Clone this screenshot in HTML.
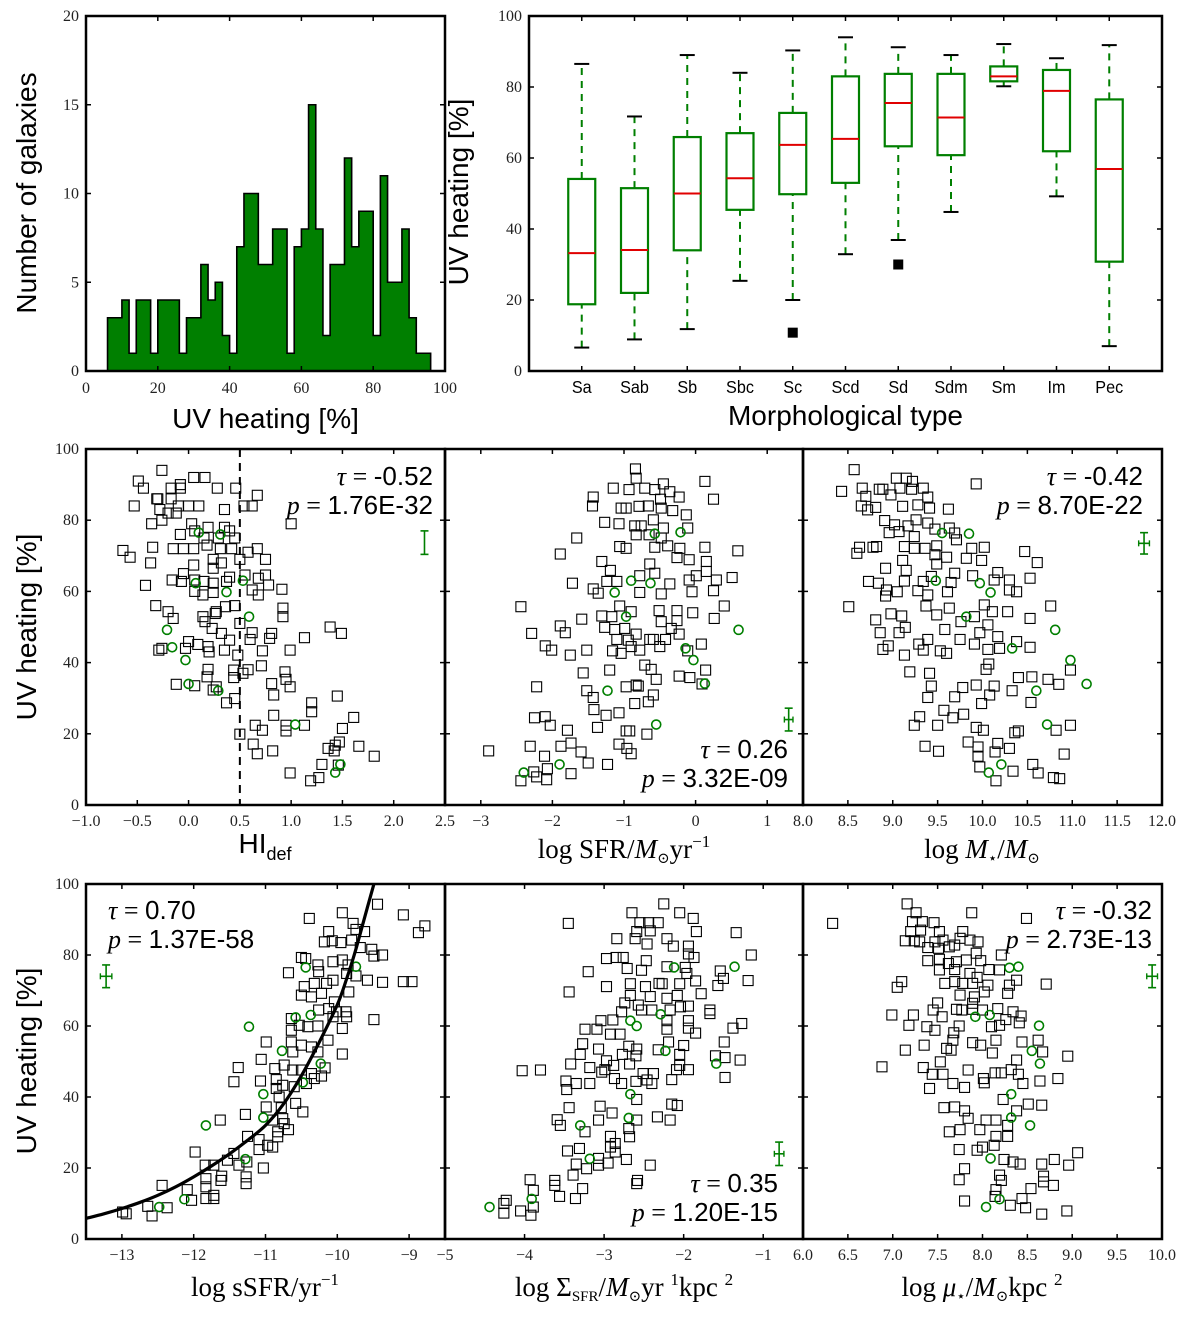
<!DOCTYPE html>
<html><head><meta charset="utf-8"><style>
html,body{margin:0;padding:0;background:#fff}
svg{display:block}
</style></head><body>
<svg id="fig" width="1200" height="1319" viewBox="0 0 1200 1319" xmlns="http://www.w3.org/2000/svg"></svg>
<script>
// ---------- DATA ----------
const histBinStart = 6;
const histBinWidth = 2;
const histCounts = [3,3,4,1,4,4,1,4,4,4,1,3,3,6,4,5,2,1,7,10,10,6,6,8,8,1,7,8,15,8,2,6,6,12,7,9,9,2,11,5,5,8,3,1,1];
const histYTicks = [0,5,10,15,20];
const histXTicks = [0,20,40,60,80,100];

const boxTypes = ['Sa','Sab','Sb','Sbc','Sc','Scd','Sd','Sdm','Sm','Im','Pec'];
const boxWhiskLo = [6.6,8.9,11.8,25.4,20,32.9,36.9,44.8,80.2,49.2,7];
const boxQ1 = [18.8,22,34,45.4,49.8,53,63.3,60.8,81.6,61.9,30.8];
const boxMed = [33.2,34.1,50,54.3,63.7,65.4,75.5,71.4,83,78.9,56.9];
const boxQ3 = [54.1,51.5,65.9,67,72.7,83,83.7,83.7,85.8,84.8,76.5];
const boxWhiskHi = [86.5,71.7,89,84,90.3,94,91.2,89,92.1,88.1,91.8];
const boxOutlierCat = [5,7];
const boxOutlierVal = [10.8,30];
const boxYTicks = [0,20,40,60,80,100];
const scatterYTicks = [0,20,40,60,80,100];

const hiSquares = [[-0.26,94],[-0.49,91],[-0.44,89],[0.05,92],[0.16,92],[0.28,89],[0.46,89],[-0.17,89],[-0.08,90],[-0.08,89],[-0.31,86],[-0.3,86],[-0.53,84],[-0.17,86],[-0.1,84],[0,84],[0.1,84],[0.35,83],[0.54,84],[0.62,84],[0.67,87],[1.0,79],[-0.36,79],[-0.26,80],[-0.28,83],[-0.2,82],[-0.12,82],[0.03,79],[0.19,78],[0.35,78],[0.4,77],[0.45,75],[0.06,77],[0.15,75],[0.29,75],[-0.08,76],[-0.15,72],[-0.05,72],[0.05,72],[0.18,73],[0.31,72],[0.42,72],[0.58,71],[0.67,72],[0.75,69],[0.5,69],[-0.64,71.5],[-0.57,69.6],[-0.35,72.4],[-0.37,68],[-0.42,61.7],[0.24,69],[0.32,68],[0.05,67.4],[0.24,66.5],[-0.05,65],[0.4,64],[0.55,64.6],[0.68,63.7],[0.75,64.6],[-0.16,63.2],[-0.07,62.8],[0.06,63.2],[0.15,62.8],[0.24,62.3],[0.37,62.8],[0.78,61.8],[0.91,60.6],[0.62,60.4],[0.68,59],[0.06,60],[0.14,59],[0.24,59.7],[-0.32,56],[-0.2,54.3],[-0.15,52.4],[0.36,55.7],[0.45,56],[0.26,53.8],[0.27,54.3],[0.14,52.9],[0.16,51.5],[0.5,51],[0.92,55.3],[0.92,52.9],[1.38,50],[1.49,48.2],[1.13,47],[0.23,49.6],[0.32,48.2],[0.4,46.3],[0.62,48.4],[0.6,46.5],[0.81,48.2],[0.79,46.8],[0.99,43.5],[0.72,43.3],[0,45.9],[0.09,45.1],[-0.03,44],[0.19,44.5],[0.2,43],[-0.29,43.5],[-0.26,44],[0.35,43.5],[0.48,42.1],[0.71,39.1],[0.19,38.1],[0.18,36],[0.44,37.9],[0.44,35.8],[0.53,37],[0.58,38],[0.94,37.4],[0.95,35.3],[0.99,33.2],[0.81,34.1],[-0.12,33.9],[0.06,33.5],[0.24,32.3],[0.27,33.2],[0.37,28.7],[0.45,29.9],[0.83,30.9],[1.45,30.6],[1.2,28.7],[1.2,26.2],[0.83,25.2],[1.61,24.6],[0.5,19.9],[0.65,22.4],[0.72,21],[0.95,22.4],[0.95,20.8],[1.13,22.4],[1.5,21.5],[0.63,17.1],[0.67,14.4],[0.82,15.2],[1.36,15.9],[1.43,16.8],[1.47,17.7],[1.66,16.5],[1.42,15.2],[1.81,13.7],[1.3,11.4],[1.46,11.2],[0.99,9],[1.27,7.7],[1.19,6.8]];
const hiCircles = [[0.1,76.5],[0.31,76],[0.07,62.3],[0.53,63],[0.37,59.8],[0.59,52.9],[-0.21,49.2],[-0.16,44.3],[-0.03,40.7],[0,34],[0.29,32.1],[1.04,22.6],[1.43,9.1],[1.48,11.4]];

const sfrSquares = [[-0.84,94.4],[-0.83,91.8],[-1.15,89],[-0.93,88.6],[-0.71,89],[-0.57,88.6],[-0.45,90.2],[-0.36,88],[0.13,90.9],[0.25,85.9],[-1.43,86.5],[-1.44,84],[-1.04,83.4],[-0.97,83.4],[-0.79,83.9],[-0.66,84],[-0.49,85.9],[-0.48,83.4],[-0.32,82.7],[-0.23,86.5],[-0.13,81.5],[-1.27,79.4],[-1.07,79],[-0.85,78.4],[-0.76,78.4],[-0.59,80.1],[-0.45,77.8],[-0.11,77.8],[-0.83,75.9],[-0.65,75.9],[-0.48,75],[-1.66,75],[-1.06,72.6],[-0.97,72.1],[-0.57,72.4],[-0.39,72.8],[-0.22,72.1],[0.13,72.4],[0.59,71.4],[-1.89,70.5],[-0.26,69.5],[-0.09,68.9],[0.15,68.4],[-1.31,68.4],[-0.64,67.7],[-1.19,65.9],[0.01,64.4],[0.15,65.6],[0.51,63.9],[-1.72,62.3],[-0.78,64.4],[-0.57,65.1],[-0.36,62.1],[-1.43,60.7],[-1.24,62.8],[-1.1,62.8],[-0.09,63.2],[0.29,63.2],[0.25,60.2],[-0.05,59.9],[-0.78,59.7],[-0.48,59.3],[-1.36,59.5],[-2.44,55.7],[-1.06,55.9],[-0.9,54.3],[-0.51,54.6],[-0.26,54.6],[-0.04,54],[0.4,55.9],[0.26,52.4],[-1.59,52.2],[-1.31,53.1],[-1.17,52.9],[-0.48,51.5],[-0.26,51.8],[-1.89,50.3],[-1.82,48.4],[-2.29,48.2],[-1.27,49.9],[-1.13,49.3],[-0.99,49.6],[-0.34,49.6],[-0.23,48],[-0.83,48],[-1.1,46.5],[-0.94,46.3],[-0.64,46.5],[-0.42,46.5],[-0.59,46.5],[0.08,45.2],[-2.1,44.7],[-2.01,43.5],[-1.52,43.5],[-1.75,42.1],[-1.16,43.3],[-1.04,42.6],[-0.9,44.5],[-0.78,43.5],[-0.5,44.5],[-0.11,43.3],[-1.57,37.1],[-1.2,37.9],[-0.71,39.3],[-0.62,38.1],[-0.55,35.3],[-0.23,36.2],[-0.08,35.8],[0.14,37.9],[0.09,34],[-2.22,33.2],[-0.97,33.2],[-0.83,33.7],[-0.8,33.4],[-1.52,32.1],[-1.43,30.2],[-0.59,30.9],[-0.85,28.5],[-0.66,29],[-1.42,26.8],[-1.25,25.2],[-1.07,25.9],[-2.25,24.5],[-2.1,24.8],[-2.03,22.4],[-1.79,21],[-1.37,21.8],[-0.97,20.8],[-0.92,20.8],[-0.68,19.9],[-2.89,15.2],[-2.31,16.5],[-1.88,16.5],[-1.74,17.4],[-1.6,14.9],[-1.07,17.1],[-0.96,15.9],[-0.9,14.4],[-2.11,13.7],[-1.5,11.8],[-1.23,11.4],[-2.07,10.2],[-2.26,9.3],[-1.74,8.8],[-2.44,6.8],[-2.22,7.9],[-2.08,7.1]];
const sfrCircles = [[-0.57,76.2],[-0.21,76.6],[-0.9,63],[-0.63,62.3],[-1.13,59.7],[-0.97,52.9],[0.6,49.2],[-0.14,44],[-0.03,40.7],[0.13,34.1],[-1.23,32.1],[-0.55,22.6],[-1.9,11.4],[-2.4,9.1]];

const mstarSquares = [[8.57,94.2],[8.43,88.1],[8.66,89],[8.7,86.7],[8.85,88.7],[8.89,88.7],[8.98,87.1],[9.04,91.8],[9.15,91.8],[9.22,90.9],[9.08,89],[9.21,88.7],[9.34,89],[9.39,86.5],[9.93,90.2],[8.65,84],[8.72,82.9],[8.81,83.6],[9.11,83.9],[9.28,84.3],[9.41,83.4],[9.62,83.1],[8.91,79.9],[9.02,78.7],[9.17,78.4],[9.26,80.1],[9.39,79.2],[8.96,76.5],[9.07,76.8],[9.24,75.4],[9.47,77.5],[9.63,77.8],[9.71,74.5],[9.69,76.4],[9.13,72.6],[9.24,72.1],[9.36,72.1],[9.49,72.8],[9.88,72.1],[10.02,72.4],[8.63,72.4],[8.6,70.7],[8.78,72.4],[8.82,72.6],[9.47,70.3],[9.6,69.6],[9.82,69.3],[9.99,68.7],[10.47,71.2],[10.61,68.1],[9.11,68.7],[8.92,66.5],[9.15,65.9],[9.49,67.7],[9.69,65.1],[10.17,65.3],[10.53,63.7],[8.73,62.8],[8.84,62.3],[8.93,60.4],[9.13,62.9],[9.34,62.8],[9.43,64.2],[9.65,62.5],[9.89,64.4],[10.13,63.2],[10.3,63.2],[10.3,60.4],[10.38,59.9],[8.92,58.7],[9.05,59.9],[9.28,60.2],[9.39,59],[9.61,59.9],[8.51,55.7],[9.37,55.9],[9.63,55.3],[9.49,53.4],[10.02,56.2],[10.11,54.3],[10.28,54.3],[10.53,52.4],[10.76,55.9],[8.81,52],[8.98,53.7],[9.1,53.1],[9.76,51.5],[9.91,52.9],[10.06,50.6],[8.86,48.4],[9.07,48.4],[9.14,49.9],[9.58,49.3],[9.75,46.5],[9.97,48.4],[10.17,47.3],[8.89,43.7],[8.95,44.7],[9.13,42.1],[9.29,45.2],[9.39,46.5],[9.34,43.5],[9.53,43.3],[9.6,42.6],[9.91,45.2],[10.06,43.7],[10.19,44],[10.38,45.9],[10.53,44.3],[9.19,37.4],[9.41,37],[9.43,33.4],[9.39,30.2],[9.69,30.4],[9.78,33],[9.93,33.7],[10.04,38.1],[10.07,39.6],[9.99,28.5],[10.08,30.9],[10.13,33.4],[10.33,32.1],[10.4,35.8],[10.55,36],[10.73,35.3],[10.85,33.9],[10.98,37.9],[10.54,28.8],[9.57,26.6],[9.67,24.5],[9.79,25.5],[9.24,22.4],[9.3,24.8],[9.5,22.4],[9.93,21.8],[10.01,21],[10.36,20.3],[10.4,20.8],[10.82,21],[10.98,22.4],[9.36,16.5],[9.51,15.1],[9.84,17.7],[9.95,16.3],[9.95,13.7],[10.14,14.9],[10.17,17.3],[10.3,15.9],[10.91,14.3],[9.97,10.7],[10.34,9.5],[10.56,11.4],[10.62,9],[10.15,6.8],[10.79,7.7],[10.86,7.4]];
const mstarCircles = [[9.55,76.4],[9.85,76.2],[9.48,63],[9.97,62.3],[10.09,59.7],[9.82,52.9],[10.81,49.2],[10.33,44],[10.98,40.7],[11.16,34],[10.6,32.1],[10.72,22.6],[10.21,11.4],[10.07,9.1]];

const ssfrSquares = [[-9.44,94.3],[-10.39,90.3],[-9.93,91.9],[-9.78,88.9],[-9.08,91.3],[-8.78,88.2],[-8.87,86.3],[-10.12,86.6],[-9.74,87.2],[-9.62,86.6],[-10.18,83.7],[-10.07,84],[-9.95,83.5],[-9.8,84.2],[-9.68,82.1],[-9.52,81.6],[-9.49,79.7],[-9.37,80],[-10.5,79.3],[-10.44,79],[-10.27,77.2],[-10.06,78.1],[-9.93,78.6],[-9.85,77.2],[-10.68,75],[-9.87,74.8],[-9.74,74.1],[-9.58,72.9],[-9.37,72.3],[-9.08,72.5],[-8.96,72.5],[-10.26,75.3],[-10.46,71.1],[-10.32,72],[-10.15,72],[-10.06,72.9],[-9.84,69.6],[-10.5,68.7],[-10.36,68.2],[-10.22,69.2],[-10.04,66.8],[-10.26,64.5],[-10.12,64.9],[-10.01,64],[-9.88,64],[-9.87,62.6],[-10.06,62.6],[-10.64,62.1],[-10.53,60.2],[-10.41,59.8],[-10.27,60],[-9.93,59.3],[-9.49,61.8],[-10.64,58.8],[-10.13,56],[-10.99,55.5],[-10.64,55.5],[-10.5,54.6],[-10.36,54.1],[-10.27,52.7],[-9.93,52.1],[-10.62,52.7],[-11.06,50.6],[-11.38,48.3],[-10.87,48],[-10.74,49],[-10.62,47.6],[-10.5,47.6],[-10.36,46.6],[-10.22,45.9],[-10.17,48.2],[-11.44,44.3],[-11.07,44.5],[-10.85,44.9],[-10.76,43.3],[-10.6,42.9],[-10.43,43.8],[-10.32,45.2],[-10.85,42.4],[-10.81,40],[-10.99,37.2],[-10.58,38.2],[-10.48,35.8],[-11.28,35.1],[-10.78,37],[-10.76,33.9],[-10.74,32.5],[-10.68,30.8],[-10.9,33.5],[-11.63,33.5],[-10.83,30.2],[-10.83,28.8],[-11.25,28.9],[-11.09,28],[-10.97,26.4],[-10.9,25.9],[-11.09,25.2],[-11.44,24.1],[-11.53,22.2],[-11.37,20.8],[-11.26,21.7],[-11.03,20],[-11.98,24.5],[-11.84,20.8],[-11.72,20.8],[-11.61,17.7],[-11.62,16.5],[-11.83,17],[-11.83,14.7],[-11.83,11.4],[-11.72,12.3],[-11.72,11.4],[-11.27,17.5],[-11.27,15.6],[-12.44,15.1],[-12.09,13.9],[-12.03,10.9],[-12.64,9.2],[-12.58,6.5],[-12.37,8.8],[-12.99,7.6],[-12.94,7.1]];
const ssfrCircles = [[-10.44,76.5],[-9.74,76.7],[-11.23,59.8],[-10.58,62.4],[-10.37,63.1],[-10.77,53],[-10.23,49.4],[-10.48,44.1],[-11.03,40.8],[-11.03,34.2],[-11.83,32],[-11.28,22.5],[-12.13,11.2],[-12.48,9]];
const fitX = [-13.5,-13.25,-13,-12.75,-12.5,-12.25,-12,-11.75,-11.5,-11.25,-11,-10.75,-10.5,-10.25,-10,-9.875,-9.75,-9.6,-9.49];
const fitY = [5.8,7.1,8.6,10.3,12.3,14.7,17.5,20.6,24,27.8,32,38,46,55.5,66,73,81,92,100];

const sigSquares = [[-2.25,94.4],[-2.05,91.9],[-1.88,90.3],[-2.65,91.9],[-3.45,88.9],[-2.55,89.1],[-2.44,89.1],[-2.32,89.1],[-2.59,86.6],[-2.42,86.8],[-1.84,86.6],[-1.34,86.3],[-2.84,84.6],[-2.61,84.6],[-2.46,83.1],[-2.21,84.6],[-2.13,82.5],[-1.94,82.5],[-2.97,79],[-2.85,79.3],[-2.76,79.3],[-1.94,80.3],[-1.87,79.3],[-1.15,80],[-3.2,75.3],[-2.71,76.2],[-2.53,75.7],[-2.47,78.4],[-2.21,76.7],[-1.98,76.5],[-1.96,74.8],[-1.54,75.5],[-1.5,73.4],[-1.19,72.8],[-2.97,71.1],[-2.67,71.9],[-2.48,71.1],[-2.31,72],[-2.27,71.9],[-2.05,71.9],[-1.85,72.7],[-1.57,71.4],[-3.44,69.6],[-1.78,69.1],[-2.67,68.6],[-2.42,68.3],[-2.21,67.8],[-2.08,68.6],[-2.74,66.5],[-2.57,65.9],[-2.78,64],[-2.53,64.5],[-2.4,64.5],[-2.17,64.5],[-2.04,65.4],[-1.94,65.6],[-1.67,64.5],[-1.67,63.5],[-3.04,61.5],[-2.89,61.7],[-2.21,61.5],[-1.94,61.5],[-1.27,60.7],[-1.38,59.4],[-3.24,59.1],[-3.09,59.1],[-2.92,57.7],[-2.8,57.7],[-2.21,59.1],[-1.94,59.4],[-1.85,58],[-3.27,55],[-3.07,53.5],[-2.69,54.3],[-2.59,53.5],[-2.19,55.5],[-2.0,54.5],[-1.49,55.5],[-3.3,52],[-2.77,52],[-2.6,51.6],[-2.32,53.3],[-2.05,52],[-1.6,51.6],[-1.48,51.1],[-1.29,50.4],[-4.03,47.4],[-3.8,47.6],[-3.42,49.3],[-3.18,48.3],[-2.97,50.2],[-2.88,48.9],[-2.68,49.3],[-2.05,48.9],[-1.94,47.7],[-2.09,47.7],[-3.03,47],[-2.99,47.7],[-3.48,44.5],[-3.35,43.8],[-3.47,42.1],[-3.18,43.8],[-2.87,45.2],[-2.78,43.8],[-2.6,44.4],[-2.51,46.6],[-2.38,46.6],[-2.46,44.8],[-2.4,43.8],[-2.15,44.9],[-1.48,45.5],[-2.59,39.3],[-3.44,37],[-3.05,37.4],[-2.9,35.5],[-2.15,38],[-2.08,37.6],[-2.17,33.5],[-2.33,34.4],[-3.07,33.5],[-3.59,33.6],[-3.55,32],[-2.59,33.5],[-2.69,31.1],[-2.68,28.8],[-3.24,30.2],[-2.92,28.9],[-2.92,25.9],[-2.86,26.9],[-3.46,24.8],[-3.31,25.5],[-2.86,24.5],[-3.07,22.7],[-2.72,22.4],[-2.95,21.4],[-3.35,21.1],[-3.07,20.8],[-3.22,19.8],[-2.42,20.8],[-3.93,16.7],[-3.62,16.5],[-3.62,15.1],[-3.39,18],[-2.58,16.5],[-2.59,15.6],[-3.27,14.2],[-3.89,13.7],[-3.56,12],[-3.36,11.4],[-4.23,10.9],[-4.26,10],[-4.05,7.9],[-3.92,6.7],[-3.89,9],[-4.26,7.3]];
const sigCircles = [[-2.12,76.5],[-1.36,76.7],[-2.67,61.5],[-2.59,60],[-2.29,63.3],[-2.23,53],[-1.59,49.4],[-2.67,40.8],[-2.69,34.1],[-3.3,32],[-3.18,22.6],[-3.91,11.3],[-4.44,9]];

const muSquares = [[6.33,88.9],[7.16,94.4],[7.26,91.9],[7.88,91.9],[8.49,90.3],[7.22,89.4],[7.33,89.4],[7.46,89.1],[7.2,86.6],[7.31,87],[7.52,86.6],[7.78,86.6],[7.14,84],[7.24,84],[7.3,83.7],[7.47,83.7],[7.56,84.2],[7.69,82.8],[7.86,84.2],[7.95,83.7],[7.39,82.1],[7.51,81.9],[7.63,82.3],[7.75,84.7],[8.21,80],[7.93,80.5],[7.39,78.4],[7.52,78.8],[7.62,77.6],[7.71,78.1],[7.82,78.6],[7.98,78.4],[7.52,75.8],[7.69,75.9],[7.86,74.8],[7.94,73.7],[8.07,75.9],[8.19,75.8],[7.1,72.5],[7.05,70.9],[7.58,72],[7.69,72.5],[7.78,72],[7.89,72],[8.06,71.5],[8.3,71.5],[8.38,72.9],[8.28,69.2],[8.71,71.8],[7.75,68.7],[7.91,68.2],[8.02,69.6],[7.89,66.4],[7.5,66.5],[6.99,63.1],[7.23,63.1],[7.45,64.5],[7.55,62.6],[7.71,64.7],[7.77,64.5],[7.89,64.7],[8.0,64.5],[8.17,64.9],[8.26,61.8],[8.34,64],[8.43,62.8],[8.41,60.9],[7.18,60.2],[7.38,59.8],[7.47,58.8],[7.74,60],[7.68,58.1],[8.19,60.2],[8.1,59.8],[7.14,53.2],[7.35,54.6],[7.6,53.7],[7.65,53.2],[7.67,56],[7.89,55.3],[7.98,54.6],[8.15,56],[8.11,52.4],[8.44,55.5],[8.62,56],[8.67,52.7],[8.38,50.4],[8.95,51.5],[6.88,48.5],[7.34,48.3],[7.53,49.9],[7.44,46.4],[7.56,46.4],[7.84,47.6],[8.01,45.2],[8.14,46.8],[8.21,46.8],[8.32,47.7],[8.4,46.4],[8.64,44.5],[8.84,45.2],[7.41,42.4],[7.67,43.8],[7.8,42.7],[8.02,44],[8.45,43.8],[8.23,39.3],[7.57,37],[7.69,37.2],[7.8,36.1],[8.04,33.5],[8.15,33.5],[8.38,36.1],[8.51,38],[8.66,37.7],[7.63,30.2],[7.75,30.8],[7.97,30.8],[7.84,34],[8.28,32],[8.15,28.9],[8.13,26.4],[8.28,28.9],[7.74,25.2],[7.94,25],[8.0,25.9],[8.24,22.4],[8.34,21.7],[8.42,21.1],[8.66,21.1],[8.8,22.4],[8.96,20.8],[9.06,24.3],[7.8,19.8],[7.74,16.7],[8.19,18],[8.21,16.5],[8.15,13.9],[8.14,12],[8.68,17.7],[8.68,16.1],[8.79,15.1],[8.54,14.2],[8.44,11.4],[7.8,10.7],[8.31,9.5],[8.48,8.8],[8.66,7],[8.94,7.9]];
const muCircles = [[8.3,76.4],[8.4,76.7],[7.92,62.6],[8.08,63.1],[8.63,60.1],[8.55,53],[8.64,49.4],[8.32,40.8],[8.32,34.2],[8.53,32],[8.09,22.7],[8.19,11.2],[8.04,9]];

const statTau = ['-0.52','0.26','-0.42','0.70','0.35','-0.32'];
const statP = ['1.76E-32','3.32E-09','8.70E-22','1.37E-58','1.20E-15','2.73E-13'];
const errX = [2.3,1.3,11.8,-13.22,-0.8,9.89];
const errY = [73.7,24,73.5,74,24,74];
const errDY = [3.3,3.2,3.0,3.2,3.3,3.2];
const errDX = [0,0.06,0.06,0.08,0.06,0.06];

// ---------- HELPERS ----------
const NS='http://www.w3.org/2000/svg';
const svg=document.getElementById('fig');
function mk(tag, attrs, parent){const e=document.createElementNS(NS,tag);for(const k in attrs)e.setAttribute(k,attrs[k]);(parent||svg).appendChild(e);return e;}
function lin(d0,d1,r0,r1){return v=>r0+(v-d0)*(r1-r0)/(d1-d0);}
const SERIF='"Liberation Serif", "DejaVu Serif", serif';
const SANS='"Liberation Sans", "DejaVu Sans", sans-serif';
const GREEN='#007f00';

function frame(g,x0,x1,y0,y1){
  const r=mk('rect',{x:x0,y:y0,width:x1-x0,height:y1-y0,fill:'none',stroke:'#000','stroke-width':2.5},g);
  
  
}
function yTicks(g,vals,sy,x0,x1,labels,fs){
  vals.forEach(v=>{
    const y=sy(v);
    const t1=mk('line',{x1:x0,x2:x0+5,y1:y,y2:y,stroke:'#000','stroke-width':1.5},g);
    
    
    const t2=mk('line',{x1:x1,x2:x1-5,y1:y,y2:y,stroke:'#000','stroke-width':1.5},g);
    
    
    if(labels){
      const t=mk('text',{x:x0-7,y:y+5,'text-anchor':'end','font-family':SERIF,'font-size':fs||16,fill:'#222'},g);
      t.textContent=String(v);
      
      
    }
  });
}
function xTicks(g,vals,sx,y0,y1,fmt,ly){
  vals.forEach(v=>{
    const x=sx(v);
    const t1=mk('line',{x1:x,x2:x,y1:y1,y2:y1-5,stroke:'#000','stroke-width':1.5},g);
    
    
    const t2=mk('line',{x1:x,x2:x,y1:y0,y2:y0+5,stroke:'#000','stroke-width':1.5},g);
    
    
    const t=mk('text',{x:x,y:ly,'text-anchor':'middle','font-family':SERIF,'font-size':16,fill:'#222'},g);
    t.textContent=fmt(v);
    
    
  });
}
function fmtN(d){return v=>(v<0?'\u2212':'')+Math.abs(v).toFixed(d);}
function yLabel(x,y,txt){
  const t=mk('text',{x:0,y:0,transform:`translate(${x},${y}) rotate(-90)`,'text-anchor':'middle','font-family':SANS,'font-size':28,fill:'#000'});
  t.textContent=txt;
  
  
}

// ---------- HISTOGRAM ----------
(function(){
  const g=mk('g',{});
  
  
  const X0=86,X1=445,Y0=16,Y1=371;
  const sx=lin(0,100,X0,X1), sy=lin(0,20,Y1,Y0);
  let d=`M${sx(histBinStart)},${sy(0)}`;
  histCounts.forEach((c,i)=>{
    const a=histBinStart+i*histBinWidth;
    d+=` L${sx(a)},${sy(c)} L${sx(a+histBinWidth)},${sy(c)}`;
  });
  d+=` L${sx(histBinStart+histCounts.length*histBinWidth)},${sy(0)} Z`;
  const p=mk('path',{d:d,fill:GREEN,stroke:'#000','stroke-width':1.6,'stroke-linejoin':'miter'},g);
  
  
  frame(g,X0,X1,Y0,Y1);
  yTicks(g,histYTicks,sy,X0,X1,true);
  xTicks(g,histXTicks,sx,Y0,Y1,v=>String(v),393);
  yLabel(36,193,'Number of galaxies');
  const t=mk('text',{x:(X0+X1)/2,y:428,'text-anchor':'middle','font-family':SANS,'font-size':28},g);
  t.textContent='UV heating [%]';
  
  
})();

// ---------- BOX PLOT ----------
(function(){
  const g=mk('g',{});
  
  
  const X0=529,X1=1162,Y0=16,Y1=371;
  const sx=lin(0,12,X0,X1), sy=lin(0,100,Y1,Y0);
  const hw=13.5, cw=7.5;
  boxTypes.forEach((name,i)=>{
    const x=sx(i+1);
    const w1=mk('line',{x1:x,x2:x,y1:sy(boxWhiskLo[i]),y2:sy(boxQ1[i]),stroke:GREEN,'stroke-width':2,'stroke-dasharray':'7,6'},g);
    
    
    const w2=mk('line',{x1:x,x2:x,y1:sy(boxQ3[i]),y2:sy(boxWhiskHi[i]),stroke:GREEN,'stroke-width':2,'stroke-dasharray':'7,6'},g);
    
    
    const c1=mk('line',{x1:x-cw,x2:x+cw,y1:sy(boxWhiskLo[i]),y2:sy(boxWhiskLo[i]),stroke:'#000','stroke-width':2},g);
    
    
    const c2=mk('line',{x1:x-cw,x2:x+cw,y1:sy(boxWhiskHi[i]),y2:sy(boxWhiskHi[i]),stroke:'#000','stroke-width':2},g);
    
    
    const r=mk('rect',{x:x-hw,y:sy(boxQ3[i]),width:2*hw,height:sy(boxQ1[i])-sy(boxQ3[i]),fill:'#fff',stroke:GREEN,'stroke-width':2.2},g);
    
    
    const m=mk('line',{x1:x-hw,x2:x+hw,y1:sy(boxMed[i]),y2:sy(boxMed[i]),stroke:'#e00000','stroke-width':2},g);
    
    
    const tk=mk('line',{x1:x,x2:x,y1:Y1,y2:Y1-5,stroke:'#000','stroke-width':1.5},g);
    
    
    const tk2=mk('line',{x1:x,x2:x,y1:Y0,y2:Y0+5,stroke:'#000','stroke-width':1.5},g);
    
    
    const t=mk('text',{x:x,y:393,'text-anchor':'middle','font-family':SANS,'font-size':18,transform:`translate(${x},0) scale(0.9,1) translate(${-x},0)`},g);
    t.textContent=name;
    
    
  });
  boxOutlierCat.forEach((c,i)=>{
    const x=sx(c), y=sy(boxOutlierVal[i]);
    const o=mk('rect',{x:x-5,y:y-5,width:10,height:10,fill:'#000'},g);
    
    
  });
  frame(g,X0,X1,Y0,Y1);
  yTicks(g,boxYTicks,sy,X0,X1,true);
  yLabel(468,192,'UV heating [%]');
  const t=mk('text',{x:(X0+X1)/2,y:425,'text-anchor':'middle','font-family':SANS,'font-size':28},g);
  t.textContent='Morphological type';
  
  
})();

// ---------- SCATTER PANELS ----------
const panels=[
 {id:'hi-def',X0:86,X1:445,Y0:449,Y1:805,dx:[-1,2.5],ticks:[-1,-0.5,0,0.5,1,1.5,2,2.5],fmt:fmtN(1),sq:hiSquares,ci:hiCircles,k:0,ylab:true,statAnchor:'end',statX:433,statY:[485,514]},
 {id:'sfr',X0:445,X1:803,Y0:449,Y1:805,dx:[-3.5,1.5],ticks:[-3,-2,-1,0,1],fmt:fmtN(0),sq:sfrSquares,ci:sfrCircles,k:1,ylab:false,statAnchor:'end',statX:788,statY:[758,787]},
 {id:'mstar',X0:803,X1:1162,Y0:449,Y1:805,dx:[8,12],ticks:[8,8.5,9,9.5,10,10.5,11,11.5,12],fmt:fmtN(1),sq:mstarSquares,ci:mstarCircles,k:2,ylab:false,statAnchor:'end',statX:1143,statY:[485,514]},
 {id:'ssfr',X0:86,X1:445,Y0:884,Y1:1239,dx:[-13.5,-8.5],ticks:[-13,-12,-11,-10,-9],fmt:fmtN(0),sq:ssfrSquares,ci:ssfrCircles,k:3,ylab:true,statAnchor:'start',statX:108,statY:[919,948]},
 {id:'sigma-sfr',X0:445,X1:803,Y0:884,Y1:1239,dx:[-5,-0.5],ticks:[-5,-4,-3,-2,-1],fmt:fmtN(0),sq:sigSquares,ci:sigCircles,k:4,ylab:false,statAnchor:'end',statX:778,statY:[1192,1221]},
 {id:'mu-star',X0:803,X1:1162,Y0:884,Y1:1239,dx:[6,10],ticks:[6,6.5,7,7.5,8,8.5,9,9.5,10],fmt:fmtN(1),sq:muSquares,ci:muCircles,k:5,ylab:false,statAnchor:'end',statX:1152,statY:[919,948]}
];
panels.forEach(P=>{
  const g=mk('g',{});
  
  
  const sx=lin(P.dx[0],P.dx[1],P.X0,P.X1), sy=lin(0,100,P.Y1,P.Y0);
  if(P.id==='hi-def'){
    const dl=mk('line',{x1:sx(0.5),x2:sx(0.5),y1:P.Y0,y2:P.Y1,stroke:'#000','stroke-width':2,'stroke-dasharray':'8,6'},g);
    
    
  }
  P.sq.forEach(pt=>{
    const r=mk('rect',{x:sx(pt[0])-5,y:sy(pt[1])-5,width:10,height:10,fill:'none',stroke:'#000','stroke-width':1.1},g);
    
    
  });
  P.ci.forEach(pt=>{
    const c=mk('circle',{cx:sx(pt[0]),cy:sy(pt[1]),r:4.5,fill:'none',stroke:GREEN,'stroke-width':1.6},g);
    
    
  });
  if(P.id==='ssfr'){
    const pts=fitX.map((x,i)=>[sx(x),sy(fitY[i])]);
    let d=`M${pts[0][0]},${pts[0][1]}`;
    for(let i=0;i<pts.length-1;i++){
      const p0=pts[Math.max(0,i-1)],p1=pts[i],p2=pts[i+1],p3=pts[Math.min(pts.length-1,i+2)];
      const c1x=p1[0]+(p2[0]-p0[0])/6,c1y=p1[1]+(p2[1]-p0[1])/6;
      const c2x=p2[0]-(p3[0]-p1[0])/6,c2y=p2[1]-(p3[1]-p1[1])/6;
      d+=` C${c1x},${c1y} ${c2x},${c2y} ${p2[0]},${p2[1]}`;
    }
    const fc=mk('path',{d:d,fill:'none',stroke:'#000','stroke-width':3.2},g);
    
    
  }
  const k=P.k, ex=sx(errX[k]), ey0=sy(errY[k]-errDY[k]), ey1=sy(errY[k]+errDY[k]);
  const eb=mk('g',{},g);
  
  
  mk('line',{x1:ex,x2:ex,y1:ey0,y2:ey1,stroke:GREEN,'stroke-width':1.6},eb);
  mk('line',{x1:ex-4,x2:ex+4,y1:ey0,y2:ey0,stroke:GREEN,'stroke-width':1.6},eb);
  mk('line',{x1:ex-4,x2:ex+4,y1:ey1,y2:ey1,stroke:GREEN,'stroke-width':1.6},eb);
  if(errDX[k]>0){
    const hx0=sx(errX[k]-errDX[k]),hx1=sx(errX[k]+errDX[k]),cy=sy(errY[k]);
    mk('line',{x1:hx0,x2:hx1,y1:cy,y2:cy,stroke:GREEN,'stroke-width':1.6},eb);
    mk('line',{x1:hx0,x2:hx0,y1:cy-3,y2:cy+3,stroke:GREEN,'stroke-width':1.4},eb);
    mk('line',{x1:hx1,x2:hx1,y1:cy-3,y2:cy+3,stroke:GREEN,'stroke-width':1.4},eb);
  }
  frame(g,P.X0,P.X1,P.Y0,P.Y1);
  yTicks(g,scatterYTicks,sy,P.X0,P.X1,P.ylab);
  xTicks(g,P.ticks,sx,P.Y0,P.Y1,P.fmt,P.Y1+21);
  const t1=mk('text',{x:P.statX,y:P.statY[0],'text-anchor':P.statAnchor,'font-family':SANS,'font-size':26},g);
  t1.innerHTML=`<tspan font-family='${SERIF}' font-style='italic'>τ</tspan><tspan font-family='${SERIF}'> = </tspan>${statTau[k]}`;
  
  
  const t2=mk('text',{x:P.statX,y:P.statY[1],'text-anchor':P.statAnchor,'font-family':SANS,'font-size':26},g);
  t2.innerHTML=`<tspan font-family='${SERIF}' font-style='italic'>p</tspan><tspan font-family='${SERIF}'> = </tspan>${statP[k]}`;
  
  
});
yLabel(36,627,'UV heating [%]');
yLabel(36,1061,'UV heating [%]');

function xTitle(cx,y,html,sans){
  const t=mk('text',{x:cx,y:y,'text-anchor':'middle','font-family':sans?SANS:SERIF,'font-size':sans?28:27});
  t.innerHTML=html;
  
  
}
xTitle(265,853,`HI<tspan font-size="18" dy="7">def</tspan>`,true);
xTitle(624,858,`log SFR/<tspan font-style="italic">M</tspan><tspan font-size="15" dy="5">⊙</tspan><tspan dy="-5">yr</tspan><tspan font-size="17" dy="-11">−1</tspan>`);
xTitle(982,858,`log <tspan font-style="italic">M</tspan><tspan font-size="15" dy="5">⋆</tspan><tspan dy="-5">/</tspan><tspan font-style="italic">M</tspan><tspan font-size="15" dy="5">⊙</tspan>`);
xTitle(265,1296,`log sSFR/yr<tspan font-size="17" dy="-11">−1</tspan>`);
xTitle(624,1296,`log Σ<tspan font-size="15" dy="5">SFR</tspan><tspan dy="-5">/</tspan><tspan font-style="italic">M</tspan><tspan font-size="15" dy="5">⊙</tspan><tspan dy="-5">yr  </tspan><tspan font-size="17" dy="-11">1</tspan><tspan dy="11">kpc  </tspan><tspan font-size="17" dy="-11">2</tspan>`);
xTitle(982,1296,`log <tspan font-style="italic">μ</tspan><tspan font-size="15" dy="5">⋆</tspan><tspan dy="-5">/</tspan><tspan font-style="italic">M</tspan><tspan font-size="15" dy="5">⊙</tspan><tspan dy="-5">kpc  </tspan><tspan font-size="17" dy="-11">2</tspan>`);
</script>
</body></html>
